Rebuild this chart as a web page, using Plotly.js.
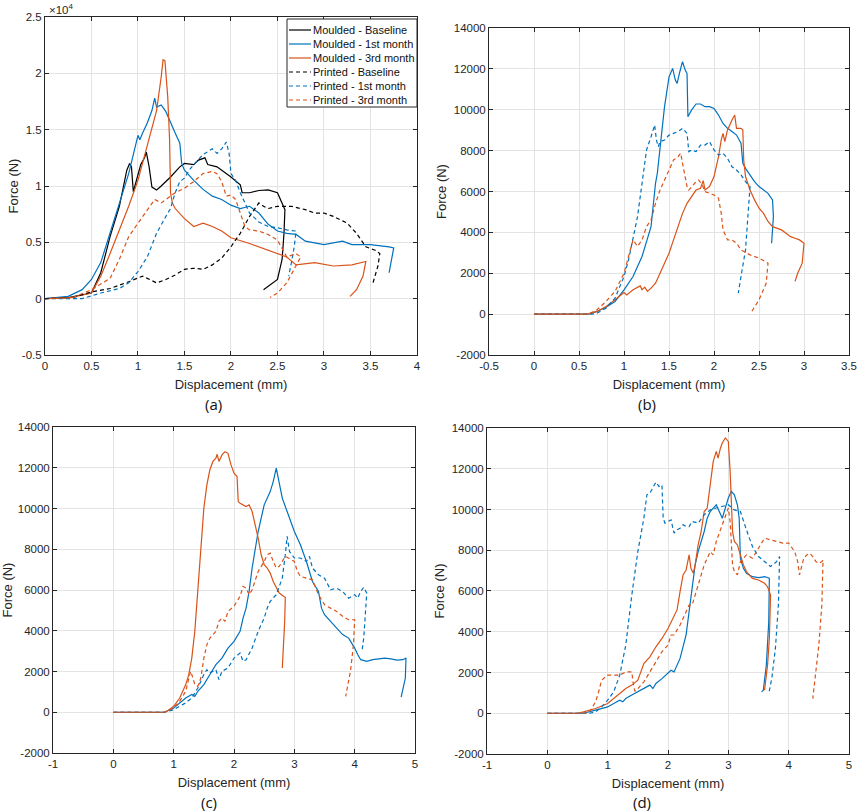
<!DOCTYPE html>
<html>
<head>
<meta charset="utf-8">
<script src="https://cdn.plot.ly/plotly-3.0.1.min.js"></script>
<style>
  html, body { margin: 0; padding: 0; background: #fff; }
  #chart { width: 858px; height: 811px; }
</style>
</head>
<body>
<div id="chart"></div>
<script>
// series names (legend only shown in panel a)
const names = ['Moulded - Baseline', 'Moulded - 1st month', 'Moulded - 3rd month',
               'Printed - Baseline', 'Printed - 1st month', 'Printed - 3rd month']

// ---- panel (a) : force in N ----
const aMbX = [0,0.25,0.5,0.6,0.7,0.8,0.88,0.91,0.93,0.95,0.98,1.03,1.07,1.09,1.12,1.15,1.2,1.25,1.35,1.45,1.5,1.6,1.65,1.72,1.75,1.85,2.0,2.1,2.12,2.2,2.3,2.4,2.5,2.55,2.58,2.57,2.55,2.5,2.35]
const aMbY = [0,100,500,2300,5500,8200,11400,12000,11700,9500,10400,11900,12500,13000,11700,9900,9650,10000,10800,11700,12000,11900,12300,12500,11900,11700,10800,10100,9400,9400,9600,9650,9400,8500,7900,5800,3500,1700,800]
const aM1X = [0,0.25,0.4,0.5,0.6,0.7,0.8,0.9,1.0,1.02,1.05,1.1,1.15,1.18,1.2,1.25,1.3,1.35,1.4,1.45,1.47,1.5,1.6,1.7,1.8,1.9,2.0,2.1,2.2,2.3,2.4,2.5,2.6,2.7,2.8,3.0,3.2,3.3,3.5,3.7,3.75,3.72,3.7]
const aM1Y = [0,200,800,1700,3200,5800,8500,11100,14500,14100,14700,15600,16700,17800,17000,17200,16600,15600,14700,13800,12000,11400,10500,9700,9100,8800,8300,8000,8200,7600,6600,6000,5800,5700,5100,4800,5100,4800,4800,4600,4500,3200,2300]
const aM3X = [0,0.25,0.5,0.6,0.7,0.8,0.9,1.0,1.1,1.18,1.2,1.25,1.27,1.29,1.32,1.34,1.35,1.37,1.4,1.5,1.6,1.7,1.8,1.9,2.0,2.2,2.4,2.5,2.6,2.7,2.9,3.1,3.3,3.45,3.42,3.35,3.28]
const aM3Y = [0,50,500,2000,4000,6100,8200,10500,13500,16100,16700,19700,21200,21100,17900,14100,9400,8500,8000,7100,6400,6700,6400,6000,5400,4900,4300,4000,3700,3000,3200,2900,3000,3300,2000,800,200]
const aPbX = [0,0.3,0.5,0.7,0.9,1.05,1.1,1.2,1.3,1.4,1.5,1.6,1.7,1.8,1.9,2.0,2.1,2.2,2.3,2.35,2.4,2.5,2.65,2.8,2.9,3.0,3.1,3.25,3.35,3.45,3.55,3.6,3.58,3.55,3.52]
const aPbY = [0,100,600,900,1500,2000,1800,1400,1700,2100,2600,2700,2600,3000,3600,4600,5800,7300,8500,8200,8000,8200,8200,7900,7600,7600,7300,6700,5800,4600,4300,4000,2900,2000,1200]
const aP1X = [0,0.4,0.6,0.8,0.9,1.0,1.1,1.2,1.3,1.35,1.4,1.45,1.5,1.55,1.6,1.7,1.8,1.85,1.9,1.95,1.98,2.0,2.05,2.1,2.15,2.2,2.3,2.4,2.5,2.6,2.7,2.68,2.65,2.62]
const aP1Y = [0,0,500,900,1400,2400,3700,5800,7300,8000,9400,10400,10700,11400,11900,12800,13300,12900,13300,13900,12900,11100,10500,9400,8500,7600,6800,6400,6300,6100,6000,4600,3200,2000]
const aP3X = [0,0.3,0.5,0.7,0.8,0.9,1.0,1.1,1.18,1.25,1.3,1.4,1.5,1.6,1.7,1.8,1.85,1.9,1.95,2.0,2.05,2.1,2.15,2.2,2.3,2.4,2.5,2.6,2.7,2.75,2.7,2.6,2.5,2.42]
const aP3Y = [0,100,800,1800,3500,5500,6700,7900,8800,8500,8800,9400,9800,10400,11100,11300,11100,10400,9100,9200,8800,7600,6400,6100,6000,5700,5200,3700,4000,3700,2900,1400,500,100]

// ---- panel (b) ----
const bM1X = [0,0.6,0.7,0.8,0.9,1.0,1.1,1.2,1.3,1.35,1.37,1.4,1.45,1.5,1.54,1.57,1.59,1.62,1.65,1.68,1.7,1.71,1.75,1.8,1.85,1.9,1.95,2.0,2.05,2.1,2.15,2.2,2.25,2.3,2.32,2.35,2.4,2.45,2.5,2.55,2.6,2.65,2.66,2.64]
const bM1Y = [0,0,130,340,620,1190,1840,2820,4280,6400,6890,8190,10150,11610,12020,11450,11290,11860,12350,11940,11780,9660,9980,10280,10280,10150,10150,10060,9740,9330,9090,8930,8760,8360,7380,7130,6810,6480,6240,6070,5910,5590,4770,3470]
const bM3X = [0,0.6,0.7,0.8,0.9,1.0,1.03,1.1,1.18,1.2,1.23,1.26,1.3,1.35,1.4,1.45,1.5,1.55,1.6,1.65,1.7,1.75,1.8,1.85,1.88,1.9,1.95,2.0,2.05,2.08,2.1,2.12,2.15,2.2,2.23,2.25,2.3,2.32,2.33,2.35,2.4,2.45,2.5,2.55,2.6,2.65,2.7,2.75,2.8,2.85,2.9,2.95,3.0,2.98,2.93,2.9]
const bM3Y = [0,0,130,370,700,1060,940,1190,1380,1190,1320,1110,1270,1510,2000,2490,2980,3630,4280,4930,5420,5750,6070,6160,6530,6070,6240,6730,7700,8520,8840,8440,9010,9500,9740,9090,9090,9010,7540,6730,6070,5590,5180,4930,4530,4280,4200,4120,3960,3790,3710,3630,3470,2490,2000,1600]
const bP1X = [0,0.65,0.7,0.8,0.9,1.0,1.05,1.1,1.15,1.2,1.25,1.3,1.34,1.36,1.38,1.4,1.45,1.5,1.55,1.6,1.65,1.7,1.72,1.75,1.8,1.85,1.9,1.95,2.0,2.05,2.1,2.15,2.2,2.25,2.3,2.35,2.4,2.38,2.35,2.3,2.27]
const bP1Y = [0,0,50,290,780,1840,2650,3630,4770,6400,8030,8680,9250,8520,8190,8440,8520,8760,8840,8930,9090,8840,7950,8030,7950,8270,8270,8440,8030,7780,7870,7620,7210,7050,6810,6480,6240,4770,3140,1840,1030]
const bP3X = [0,0.6,0.7,0.8,0.9,1.0,1.05,1.1,1.15,1.2,1.25,1.3,1.35,1.4,1.45,1.5,1.55,1.6,1.63,1.65,1.7,1.72,1.75,1.8,1.83,1.87,1.9,1.95,2.0,2.05,2.08,2.1,2.15,2.2,2.25,2.3,2.4,2.5,2.6,2.58,2.5,2.42]
const bP3Y = [0,0,210,620,1110,2000,2820,3630,3310,3630,4280,4610,5420,6070,6560,7050,7540,7700,7870,7380,6240,6070,6240,6480,6560,6320,5990,5910,5830,5670,4930,4120,3630,3630,3470,3140,2900,2740,2490,1510,700,130]

// ---- panel (c) ----
const cM1X = [0,0.85,1.0,1.1,1.2,1.3,1.35,1.4,1.5,1.6,1.7,1.8,1.9,2.0,2.1,2.15,2.2,2.25,2.3,2.4,2.5,2.6,2.65,2.7,2.75,2.8,2.9,3.0,3.1,3.2,3.3,3.4,3.45,3.5,3.6,3.7,3.8,3.9,4.0,4.05,4.1,4.2,4.3,4.4,4.5,4.6,4.7,4.8,4.85,4.84,4.8,4.77]
const cM1Y = [0,0,210,460,700,870,780,1030,1360,1850,2340,2660,3150,3480,3970,4620,5110,5930,7080,8870,10180,10830,11320,11980,11320,10510,9690,8870,8220,7400,6420,5930,5110,4790,4460,4130,3810,3640,3150,2830,2580,2500,2580,2620,2660,2620,2560,2580,2660,1680,1030,740]
const cM3X = [0,0.85,0.9,1.0,1.1,1.2,1.25,1.3,1.35,1.4,1.45,1.5,1.55,1.6,1.65,1.7,1.72,1.75,1.8,1.85,1.9,1.95,2.0,2.05,2.07,2.1,2.2,2.25,2.3,2.35,2.4,2.45,2.5,2.55,2.6,2.65,2.7,2.75,2.82,2.85,2.84,2.82,2.8]
const cM3Y = [0,0,80,290,700,1360,1850,2660,3970,5930,8220,10020,11160,11900,12310,12470,12660,12310,12630,12790,12710,12140,11730,11570,10340,10260,10100,10180,9850,9200,8550,7730,7240,7080,6830,6420,6090,5850,5690,5640,4460,3150,2170]
const cP1X = [0,0.85,1.0,1.1,1.2,1.3,1.4,1.5,1.55,1.6,1.7,1.75,1.8,1.9,2.0,2.1,2.15,2.2,2.3,2.4,2.5,2.55,2.6,2.7,2.8,2.85,2.88,2.92,3.0,3.1,3.2,3.25,3.3,3.4,3.5,3.6,3.7,3.8,3.9,4.0,4.05,4.1,4.15,4.2,4.18,4.15,4.12]
const cP1Y = [0,0,130,290,460,700,1190,1850,2090,1930,2090,1600,2010,2170,2660,2910,2500,2580,3150,3970,4620,5110,5440,5770,6580,7730,8630,7890,7570,7570,7400,7650,7080,6750,6580,6010,6090,5930,5600,5770,5600,5930,6130,5850,4950,3640,2990]
const cP3X = [0,0.85,1.0,1.1,1.2,1.25,1.28,1.3,1.35,1.4,1.45,1.5,1.55,1.6,1.7,1.75,1.8,1.85,1.9,2.0,2.1,2.15,2.2,2.25,2.3,2.4,2.5,2.55,2.6,2.65,2.7,2.75,2.8,2.85,2.9,3.0,3.05,3.1,3.2,3.3,3.4,3.5,3.6,3.7,3.8,3.9,4.0,3.98,3.93,3.87,3.85]
const cP3Y = [0,0,210,540,1030,1600,2010,1850,1360,1270,1680,2660,3320,3640,3970,4460,4620,4460,4950,5200,5690,6180,6090,5770,6010,6910,7400,7730,7810,7400,7080,7160,7400,7650,7570,7400,6910,6670,6580,6500,5770,5280,5110,4950,4710,4540,4540,3320,2010,1030,780]

// ---- panel (d) ----
const dM1X = [0,0.6,0.8,1.0,1.1,1.2,1.25,1.3,1.4,1.5,1.6,1.7,1.75,1.8,1.9,2.0,2.05,2.1,2.2,2.3,2.35,2.4,2.45,2.5,2.6,2.65,2.7,2.75,2.8,2.85,2.9,2.95,3.0,3.05,3.1,3.15,3.18,3.2,3.25,3.3,3.4,3.5,3.6,3.65,3.68,3.67,3.63,3.58,3.55]
const dM1Y = [0,0,150,310,480,640,560,720,890,1050,1210,1380,1210,1460,1700,1950,2110,2030,2690,3840,4980,6300,7280,7930,8920,9570,9900,10070,10230,9900,9570,10070,10560,10890,10720,10230,9570,7610,7110,6870,6700,6660,6700,6660,6620,4490,2360,1130,1050]
const dM3X = [0,0.5,0.6,0.8,1.0,1.1,1.2,1.3,1.4,1.5,1.6,1.7,1.8,1.9,2.0,2.1,2.15,2.2,2.25,2.3,2.35,2.38,2.42,2.45,2.5,2.55,2.6,2.65,2.7,2.75,2.8,2.83,2.87,2.9,2.95,3.0,3.03,3.05,3.07,3.1,3.15,3.2,3.25,3.3,3.4,3.5,3.6,3.65,3.7,3.68,3.65,3.6]
const dM3Y = [0,0,70,230,480,720,970,1210,1380,1620,2440,2770,3260,3670,4160,4820,5070,5970,6790,7030,7770,7110,6870,7280,8260,8920,9900,10070,11210,12360,12850,12520,13020,13260,13510,13340,11870,10230,8920,8430,8260,7770,7280,6950,6620,6540,6380,6210,5800,3670,2360,1130]
const dP1X = [0,0.7,0.8,0.9,1.0,1.1,1.2,1.3,1.4,1.5,1.6,1.65,1.7,1.75,1.8,1.85,1.9,1.92,1.95,2.0,2.05,2.1,2.15,2.2,2.25,2.3,2.35,2.4,2.5,2.6,2.7,2.8,2.9,3.0,3.1,3.2,3.3,3.4,3.5,3.6,3.65,3.7,3.8,3.85,3.83,3.78,3.72,3.67]
const dP1Y = [0,0,70,310,640,1050,1870,3340,5800,7930,9570,10720,10800,11050,11340,11130,11210,9570,9330,9410,9490,8840,9000,9080,9250,9160,9160,9410,9330,9740,9980,10070,10150,10230,9980,9900,9000,8180,7690,7440,7280,7200,7440,7690,5310,3180,1700,970]
const dP3X = [0,0.6,0.7,0.8,0.85,0.9,1.0,1.1,1.2,1.3,1.4,1.42,1.45,1.5,1.6,1.7,1.8,1.9,2.0,2.05,2.1,2.2,2.3,2.35,2.4,2.5,2.6,2.7,2.75,2.8,2.9,2.95,3.0,3.03,3.07,3.1,3.15,3.2,3.3,3.4,3.5,3.6,3.7,3.8,3.9,4.0,4.1,4.15,4.18,4.25,4.3,4.35,4.4,4.45,4.5,4.55,4.57,4.55,4.5,4.45,4.4]
const dP3Y = [0,0,70,560,1050,1620,1870,1870,1870,2030,2030,1540,1080,1210,1540,2030,2520,3020,3340,3840,3840,4330,4980,5310,5310,6300,7280,7930,7770,8430,9250,9740,10070,9410,7280,6950,6790,7440,7770,7610,8100,8590,8510,8430,8350,8350,7930,7440,6790,7610,7770,7850,7690,7440,7360,7440,7520,5310,3340,2030,720]

// tick values / labels
const aYTicks = [-5000,0,5000,10000,15000,20000,25000]
const aYText = ['-0.5','0','0.5','1','1.5','2','2.5']
const aXTicks = [0,0.5,1,1.5,2,2.5,3,3.5,4]
const bXTicks = [-0.5,0,0.5,1,1.5,2,2.5,3,3.5]
const cdXTicks = [-1,0,1,2,3,4,5]
const bcdYTicks = [-2000,0,2000,4000,6000,8000,10000,12000,14000]

const blue = '#0072BD', orange = '#D95319', black = '#000000'
const seriesColor = [black, blue, orange, black, blue, orange]
const seriesDashed = [false, false, false, true, true, true]
const dashStyle = '4px,3px'

function line(x, y, idx, ax) {
    return {
        x: x, y: y,
        type: 'scatter', mode: 'lines',
        name: names[idx],
        showlegend: false,
        xaxis: 'x' + ax, yaxis: 'y' + ax,
        line: { color: seriesColor[idx], width: 1.2, dash: seriesDashed[idx] ? dashStyle : 'solid' }
    }
}

let data = [
    line(aMbX, aMbY, 0, ''),
    line(aM1X, aM1Y, 1, ''),
    line(aM3X, aM3Y, 2, ''),
    line(aPbX, aPbY, 3, ''),
    line(aP1X, aP1Y, 4, ''),
    line(aP3X, aP3Y, 5, ''),

    line(bM1X, bM1Y, 1, '2'),
    line(bM3X, bM3Y, 2, '2'),
    line(bP1X, bP1Y, 4, '2'),
    line(bP3X, bP3Y, 5, '2'),

    line(cM1X, cM1Y, 1, '3'),
    line(cM3X, cM3Y, 2, '3'),
    line(cP1X, cP1Y, 4, '3'),
    line(cP3X, cP3Y, 5, '3'),

    line(dM1X, dM1Y, 1, '4'),
    line(dM3X, dM3Y, 2, '4'),
    line(dP1X, dP1Y, 4, '4'),
    line(dP3X, dP3Y, 5, '4'),
]

const W = 858, H = 811
const axisCol = '#262626'
const tickFont = { family: 'Liberation Sans, Arial, sans-serif', size: 11.5, color: axisCol }
const titleFont = { family: 'Liberation Sans, Arial, sans-serif', size: 13, color: axisCol }

function xAx(domain, anchor, range, ticks) {
    return {
        domain: domain, anchor: anchor, range: range,
        tickvals: ticks, ticktext: ticks.map(String),
        showline: true, linecolor: axisCol, linewidth: 1, mirror: 'all',
        ticks: 'inside', ticklen: 4, tickcolor: axisCol,
        showgrid: true, gridcolor: '#e3e3e3', zeroline: false,
        tickfont: tickFont,
        title: { text: 'Displacement (mm)', font: titleFont, standoff: 9 }
    }
}
function yAx(domain, anchor, range, ticks, text, standoff) {
    return {
        domain: domain, anchor: anchor, range: range,
        tickvals: ticks, ticktext: text || ticks.map(String),
        showline: true, linecolor: axisCol, linewidth: 1, mirror: 'all',
        ticks: 'inside', ticklen: 4, tickcolor: axisCol,
        showgrid: true, gridcolor: '#e3e3e3', zeroline: false,
        tickfont: tickFont,
        title: { text: 'Force (N)', font: titleFont, standoff: standoff }
    }
}

const labFont = { family: 'Open Sans, Noto Sans, sans-serif', size: 15, color: '#111' }

// legend box for panel (a), drawn in pixel terms then turned into paper units
const legBox = { l: 287, r: 417, t: 19, b: 107 }
const px = v => v / W
const py = v => 1 - v / H
let shapes = [
    { type: 'rect', xref: 'paper', yref: 'paper', x0: px(legBox.l), x1: px(legBox.r), y0: py(legBox.b), y1: py(legBox.t),
      fillcolor: '#fff', line: { color: axisCol, width: 1 }, layer: 'above' }
]
function panelLabel(txt, x, y) {
    return { xref: 'paper', yref: 'paper', x: px(x), y: py(y), xanchor: 'center', yanchor: 'middle',
             text: txt, showarrow: false, font: labFont }
}
let annotations = [
    { xref: 'paper', yref: 'paper', x: 0.0548, y: 0.9995, xanchor: 'left', yanchor: 'top',
      text: '\u00d710<sup>4</sup>', showarrow: false, font: tickFont },
    panelLabel('(a)', 213, 404),
    panelLabel('(b)', 647, 404),
    panelLabel('(c)', 209, 802),
    panelLabel('(d)', 642, 802),
]
names.forEach((nm, i) => {
    const rowY = 30 + 14 * i
    shapes.push({ type: 'line', xref: 'paper', yref: 'paper', x0: px(289), x1: px(311), y0: py(rowY), y1: py(rowY),
        line: { color: seriesColor[i], width: 1.2, dash: seriesDashed[i] ? dashStyle : 'solid' }, layer: 'above' })
    annotations.push({ xref: 'paper', yref: 'paper', x: px(311), y: py(rowY), xanchor: 'left', yanchor: 'middle',
        text: nm, showarrow: false, font: { family: 'Liberation Sans, Arial, sans-serif', size: 11, color: '#111' } })
})

let layout = {
    width: W, height: H,
    margin: { l: 0, r: 0, t: 0, b: 0 },
    paper_bgcolor: '#fff', plot_bgcolor: '#fff',
    showlegend: false,
    xaxis: xAx([0.0524, 0.486], 'y', [0, 4], aXTicks),
    yaxis: yAx([0.5623, 0.979], 'x', [-5000, 25000], aYTicks, aYText, 0),
    xaxis2: xAx([0.570, 0.9895], 'y2', [-0.5, 3.5], bXTicks),
    yaxis2: yAx([0.5623, 0.9655], 'x2', [-2000, 14000], bcdYTicks, null, 4),
    xaxis3: xAx([0.0618, 0.4837], 'y3', [-1, 5], cdXTicks),
    yaxis3: yAx([0.0715, 0.4735], 'x3', [-2000, 14000], bcdYTicks, null, 4),
    xaxis4: xAx([0.5676, 0.9895], 'y4', [-1, 5], cdXTicks),
    yaxis4: yAx([0.0703, 0.4723], 'x4', [-2000, 14000], bcdYTicks, null, 4),
    shapes: shapes,
    annotations: annotations
}

Plotly.newPlot('chart', data, layout, { displayModeBar: false, staticPlot: true })
</script>
</body>
</html>
